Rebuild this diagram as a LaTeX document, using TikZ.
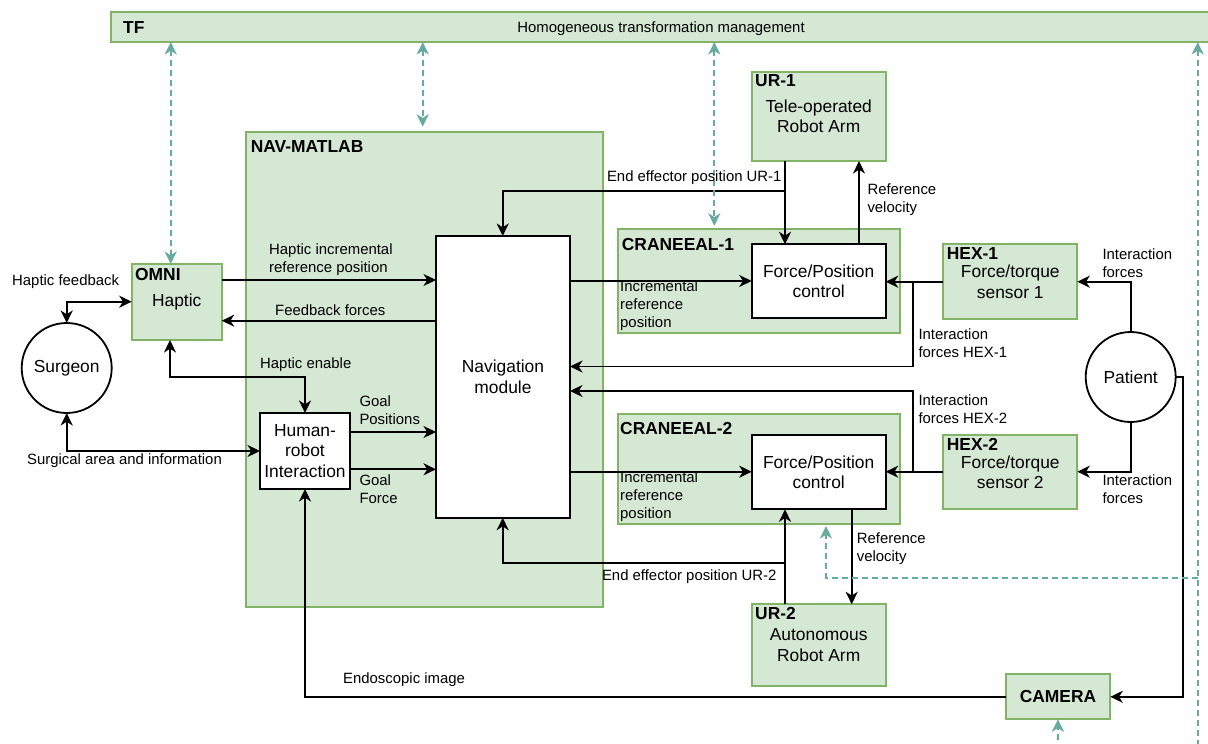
\documentclass[tikz,border=0pt]{standalone}
\usepackage{fontspec}
\setmainfont{Liberation Sans}
\usetikzlibrary{arrows.meta,calc}
\definecolor{gfill}{HTML}{D5E8D4}
\definecolor{gline}{HTML}{82B366}
\definecolor{tealc}{HTML}{67AB9F}
\begin{document}
\begin{tikzpicture}[x=1pt,y=-1pt,
  >={Stealth[length=12.5pt,width=12pt,inset=3.8pt]},
  gbox/.style={draw=gline, fill=gfill, line width=1.8pt, rectangle, inner sep=0pt, outer sep=0pt, anchor=north west, align=center, font=\fontsize{17.4}{20.5}\selectfont},
  wbox/.style={draw=black, fill=white, line width=1.8pt, rectangle, inner sep=0pt, outer sep=0pt, anchor=north west, align=center, font=\fontsize{17.4}{20.5}\selectfont},
  circ/.style={draw=black, fill=white, line width=1.8pt, circle, minimum size=90pt, inner sep=0pt, outer sep=0pt, font=\fontsize{17.4}{20.5}\selectfont},
  ttl/.style={font=\bfseries\fontsize{17.4}{20.5}\selectfont, anchor=west, inner sep=0pt},
  lbl/.style={font=\fontsize{14.9}{18}\selectfont, anchor=west, inner sep=0pt, align=left},
  lblr/.style={lbl, anchor=east, align=right},
  wire/.style={draw=black, line width=1.9pt, ->},
  wire2/.style={draw=black, line width=1.9pt, <->},
  tdash/.style={draw=tealc, line width=2pt, dash pattern=on 6pt off 4pt}
]
\useasboundingbox (0,0) rectangle (1208,744);
\clip (0,0) rectangle (1208,744);

% containers
\node[gbox, minimum width=1120pt, minimum height=30pt] (tf) at (111,12) {};
\node[gbox, minimum width=357pt, minimum height=475.6pt] (nav) at (245.7,131.7) {};
\node[gbox, minimum width=282.3pt, minimum height=104pt] (cr1) at (617.7,229.3) {};
\node[gbox, minimum width=282.3pt, minimum height=110pt] (cr2) at (617.7,414) {};

% titles
\node[ttl] (tft) at (123,28) {TF};
\node[font=\fontsize{14.9}{18}\selectfont, inner sep=0pt] (tfl) at (661,29) {Homogeneous transformation management};
\node[ttl] (navt) at (250.7,147) {NAV-MATLAB};
\node[ttl] (cr1t) at (621.7,245) {CRANEEAL-1};
\node[ttl] (cr2t) at (620,428.3) {CRANEEAL-2};

% blocks
\node[wbox, minimum width=134pt, minimum height=281.7pt] (navmod) at (436,236) {Navigation\\module};
\node[gbox, minimum width=90pt, minimum height=76pt] (omni) at (131.7,264) {Haptic};
\node[ttl] (omnit) at (135,275) {OMNI};
\node[wbox, minimum width=90pt, minimum height=76pt] (hri) at (260,413) {Human-\\robot\\Interaction};
\node[circ] (surgeon) at (66.7,368) {Surgeon};
\node[circ] (patient) at (1130.7,377) {Patient};

\node[gbox, minimum width=134pt, minimum height=89.3pt] (ur1) at (751.7,71.7) {Tele-operated\\Robot Arm};
\node[ttl] (ur1t) at (755,81) {UR-1};
\node[wbox, minimum width=134pt, minimum height=74pt] (fpc1) at (751.7,244.3) {Force/Position\\control};
\node[gbox, minimum width=134pt, minimum height=74.7pt] (hex1) at (943.3,244.3) {Force/torque\\sensor 1};
\node[ttl] (hex1t) at (946.7,254) {HEX-1};

\node[wbox, minimum width=134pt, minimum height=74.3pt] (fpc2) at (751.7,435) {Force/Position\\control};
\node[gbox, minimum width=134pt, minimum height=74.3pt] (hex2) at (943.3,435) {Force/torque\\sensor 2};
\node[ttl] (hex2t) at (946.7,444.3) {HEX-2};
\node[gbox, minimum width=134pt, minimum height=81.4pt] (ur2) at (751.7,604.3) {Autonomous\\Robot Arm};
\node[ttl] (ur2t) at (755,614) {UR-2};
\node[gbox, minimum width=104.6pt, minimum height=45pt, font=\bfseries\fontsize{17.4}{20.5}\selectfont] (cam) at (1005.7,674.3) {CAMERA};

% black connectors
\draw[wire2] (surgeon.north) |- (omni.west |- 0,301.7);
\draw[wire2] (surgeon.south) |- (hri.west);
\draw[wire2] (omni.south -| 170,0) -- (170,376.7) -| (hri.north);
\draw[wire] (omni.east |- 0,280) -- (navmod.west |- 0,280);
\draw[wire] (navmod.west |- 0,320.7) -- (omni.east |- 0,320.7);
\draw[wire] (hri.east |- 0,432) -- (navmod.west |- 0,432);
\draw[wire] (hri.east |- 0,469.3) -- (navmod.west |- 0,469.3);
\draw[wire] (navmod.east |- 0,281) -- (fpc1.west |- 0,281);
\draw[wire] (navmod.east |- 0,471.7) -- (fpc2.west |- 0,471.7);
\draw[wire] (ur1.south -| 785,0) -- (fpc1.north -| 785,0);
\coordinate (j1) at (785,190.7);
\draw[wire] (j1) -| (navmod.north -| 502.7,0);
\draw[wire] (fpc1.north -| 859,0) -- (ur1.south -| 859,0);
\draw[wire] (hex1.west |- 0,281.7) -- (fpc1.east |- 0,281.7);
\coordinate (j2) at (913.3,281.7);
\draw[wire] (j2) |- (navmod.east |- 0,366.5);
\draw[wire] (patient.north) |- (hex1.east |- 0,281.7);
\draw[wire] (patient.south) |- (hex2.east |- 0,471.7);
\draw[wire] (hex2.west |- 0,471.7) -- (fpc2.east |- 0,471.7);
\coordinate (j3) at (913.3,471.7);
\draw[wire] (j3) |- (navmod.east |- 0,391);
\draw[wire] (ur2.north -| 785,0) -- (fpc2.south -| 785,0);
\coordinate (j4) at (785,562.7);
\draw[wire] (j4) -| (navmod.south -| 502.7,0);
\draw[wire] (fpc2.south -| 851.7,0) -- (ur2.north -| 851.7,0);
\draw[wire] (patient.east) -- ++(7.5,0) |- (cam.east);
\draw[wire] (cam.west) -| (hri.south);

% teal dashed connectors
\draw[tdash,<->] (tf.south -| 170.7,0) -- (omni.north -| 170.7,0);
\draw[tdash,<->,shorten >=5pt] (tf.south -| 422.7,0) -- (nav.north -| 422.7,0);
\draw[tdash,<->,shorten >=3.5pt] (tf.south -| 714.3,0) -- (cr1.north -| 714.3,0);
\coordinate (tfr) at (1197.7,760);
\draw[tdash,<-] (tf.south -| 1197.7,0) -- (tfr);
\coordinate (tj) at (1197.7,577.5);
\draw[tdash,->,shorten >=2pt] (tj) -| (cr2.south -| 826,0);
\coordinate (camb) at (1057.7,760);
\draw[tdash,->] (camb) -- (cam.south);

% labels
\node[lbl] (l1) at (12,282) {Haptic feedback};
\node[lbl] (l2) at (27,461) {Surgical area and information};
\node[lbl] (l3) at (260,365) {Haptic enable};
\node[lbl] (l4) at (269,260) {Haptic incremental\\reference position};
\node[lbl] (l5) at (275,310) {Feedback forces};
\node[lbl] (l6) at (359.3,410) {Goal\\Positions};
\node[lbl] (l7) at (359.3,489) {Goal\\Force};
\node[lblr] (l8) at (781.7,178) {End effector position UR-1};
\node[lbl] (l9) at (867.3,200) {Reference\\velocity};
\node[lbl] (l10) at (620,306) {Incremental\\reference\\position};
\node[lbl] (l11) at (918.3,343.5) {Interaction\\forces HEX-1};
\node[lbl] (l12) at (1102.3,263) {Interaction\\forces};
\node[lbl] (l13) at (918.3,409) {Interaction\\forces HEX-2};
\node[lbl] (l14) at (1102.3,489) {Interaction\\forces};
\node[lbl] (l15) at (620,496.5) {Incremental\\reference\\position};
\node[lblr] (l16) at (776.7,577) {End effector position UR-2};
\node[lbl] (l17) at (856.7,548.5) {Reference\\velocity};
\node[lbl] (l18) at (343,680) {Endoscopic image};
\end{tikzpicture}
\end{document}
